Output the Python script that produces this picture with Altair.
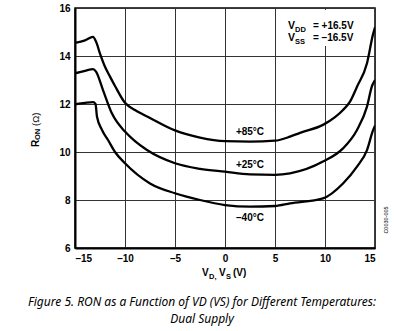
import altair as alt
import pandas as pd

# ---- data ----
v_85 = [-15, -14, -13.2, -12.9, -12.5, -12, -11.5, -11, -10, -9, -7.5, -5, -2.5, 0, 2.5, 5, 6.5, 7.5, 9.8, 11, 11.8, 12.5, 13.2, 14.2, 14.8, 15]
r_85 = [14.55, 14.65, 14.8, 14.6, 14.1, 13.55, 13.14, 12.75, 12.05, 11.75, 11.42, 10.9, 10.6, 10.45, 10.43, 10.47, 10.64, 10.8, 11.13, 11.45, 11.75, 12.1, 12.72, 13.7, 14.9, 15.2]

v_25 = [-15, -14, -13.2, -12.9, -12.2, -11.3, -10, -9, -7.8, -5, -2.5, 0, 2.5, 5, 6.5, 9.8, 11.8, 13.2, 14.2, 14.7, 15]
r_25 = [13.28, 13.38, 13.45, 13.35, 12.58, 11.6, 10.85, 10.45, 10.08, 9.53, 9.3, 9.18, 9.07, 9.05, 9.11, 9.6, 10.15, 10.92, 11.89, 12.75, 13.0]

v_m40 = [-15, -14, -13.2, -12.95, -12.8, -12.3, -11.7, -11, -10, -7.5, -5, -2.5, 0, 2.5, 5, 6.5, 9.8, 11.8, 13.2, 14.2, 14.8, 15]
r_m40 = [11.99, 12.05, 12.08, 12.0, 11.47, 10.92, 10.5, 10.0, 9.53, 8.69, 8.28, 8.0, 7.79, 7.72, 7.75, 7.86, 8.07, 8.69, 9.39, 10.08, 10.9, 11.1]

series_names = ["+85°C", "+25°C", "–40°C"]
label_v = [2.5, 2.5, 2.5]
label_r = [10.85, 9.45, 7.25]

x_ticks = [-15, -10, -5, 0, 5, 10, 15]
y_ticks = [6, 8, 10, 12, 14, 16]

rows = []
for name, vs, rs in zip(series_names, [v_85, v_25, v_m40], [r_85, r_25, r_m40]):
    for a, b in zip(vs, rs):
        rows.append({"series": name, "v": a, "r": b})
df = pd.DataFrame(rows)
labels = pd.DataFrame({"series": series_names, "v": label_v, "r": label_r})
one = pd.DataFrame({"k": [0]})

FONT = "Liberation Sans"

x_enc = alt.X("v:Q", scale=alt.Scale(domain=[-15, 15], nice=False, zero=False),
              axis=alt.Axis(values=x_ticks, title=None, labelPadding=5,
                            labelExpr="datum.value < 0 ? '–' + abs(datum.value) : '' + datum.value"))
y_enc = alt.Y("r:Q", scale=alt.Scale(domain=[6, 16], nice=False, zero=False),
              axis=alt.Axis(values=y_ticks, title=None, labelPadding=5, format="d"))

lines = alt.Chart(df).mark_line(color="black", strokeWidth=2.3, interpolate="monotone", clip=True).encode(
    x=x_enc, y=y_enc, detail="series:N")

temp_labels = alt.Chart(labels).mark_text(font=FONT, fontWeight="bold", fontSize=10, color="black").encode(
    x="v:Q", y="r:Q", text="series:N")

# white box behind the supply annotation (hides the grid there, as in the reference)
ann_box = alt.Chart(one).mark_rect(color="white").encode(
    x=alt.value(211), x2=alt.value(283), y=alt.value(2), y2=alt.value(38))


def txt(s, x, y, size=10, weight="bold", style="normal", align="left", angle=0, font=FONT, baseline="alphabetic"):
    return alt.Chart(one).mark_text(text=s, fontSize=size, fontWeight=weight, fontStyle=style, align=align,
                                    baseline=baseline, angle=angle, font=font, color="black").encode(
        x=alt.value(x), y=alt.value(y))


annots = [
    # supply annotation
    txt("V", 213, 21, size=10.5), txt("DD", 220, 24, size=7.5), txt("= +16.5V", 238, 21, size=10),
    txt("V", 213, 33, size=10.5), txt("SS", 220, 36, size=7.5), txt("= –16.5V", 238, 33, size=10),
    # x title
    txt("V", 127, 268), txt("D,", 134, 271, size=7.5), txt("V", 144, 268), txt("S", 151, 271, size=7.5),
    txt("(V)", 158, 268),
    # y title (rotated)
    txt("R", -39, 139, angle=270, baseline="middle"), txt("ON", -37, 132, size=7.5, angle=270, baseline="middle"),
    txt("(Ω)", -39, 118, size=9.5, angle=270, baseline="middle", weight="normal"),
    # figure id
    txt("C0030-005", 311, 212, size=5.5, angle=270, align="center", baseline="middle", weight="normal"),
    # caption
    txt("Figure 5. RON as a Function of VD (VS) for Different Temperatures:", 127, 298, size=12,
        weight="normal", style="italic", align="center", font="Noto Sans"),
    txt("Dual Supply", 127, 315, size=12, weight="normal", style="italic", align="center", font="Noto Sans"),
]

chart = alt.layer(ann_box, lines, temp_labels, *annots).properties(
    width=300, height=240,
    autosize=alt.AutoSizeParams(type="none"),
    padding={"left": 75, "top": 8, "right": 19, "bottom": 83},
).configure_view(stroke="black", strokeWidth=1.5).configure_axis(
    grid=True, gridColor="#333333", gridWidth=1, gridOpacity=1,
    domain=True, domainColor="black", domainWidth=2, ticks=False,
    labelFont=FONT, labelFontWeight="bold", labelFontSize=10, labelColor="black",
)

chart.save("out.html", embed_options={"renderer": "svg", "actions": False})
